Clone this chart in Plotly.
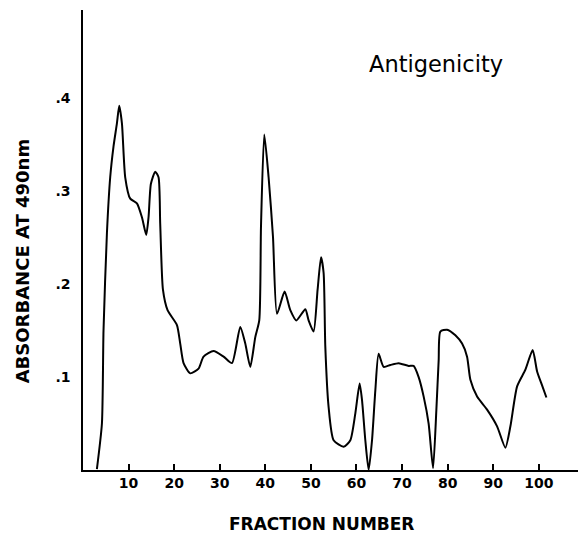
import plotly.graph_objects as go

fraction = [3.05, 4.15, 4.50, 5.25, 5.97, 6.69, 7.44, 7.95, 8.54, 9.26, 10.36, 11.83, 12.93, 13.87,
            14.38, 14.90, 15.85, 16.57, 16.94, 17.54, 18.55, 20.61, 21.33, 22.06, 23.53, 25.35,
            26.45, 28.64, 30.84, 32.68, 34.50, 35.60, 36.70, 37.80, 38.67, 39.05, 39.77, 40.72,
            41.68, 42.56, 44.23, 45.48, 46.80, 48.77, 49.50, 50.59, 51.47, 52.22, 52.79, 53.16,
            53.88, 54.98, 57.18, 58.65, 59.75, 60.69, 61.22, 61.94, 62.67, 63.41, 64.14, 64.86,
            65.96, 67.43, 69.25, 71.45, 72.54, 73.64, 74.74, 75.83, 76.80, 77.53, 78.03, 78.40,
            79.87, 81.70, 83.17, 84.26, 84.99, 86.46, 88.65, 90.85, 92.67, 93.77, 95.24, 97.06,
            98.66, 99.63, 100.72, 101.67]
absorbance = [0.001, 0.050, 0.150, 0.255, 0.315, 0.348, 0.373, 0.392, 0.373, 0.315, 0.292, 0.287,
              0.272, 0.253, 0.272, 0.308, 0.321, 0.315, 0.265, 0.194, 0.172, 0.156, 0.136, 0.115,
              0.104, 0.109, 0.122, 0.128, 0.122, 0.115, 0.154, 0.136, 0.111, 0.143, 0.161, 0.262,
              0.361, 0.315, 0.251, 0.168, 0.192, 0.172, 0.161, 0.173, 0.161, 0.149, 0.194, 0.229,
              0.212, 0.133, 0.068, 0.032, 0.025, 0.032, 0.061, 0.093, 0.075, 0.032, 0.000, 0.032,
              0.086, 0.125, 0.111, 0.113, 0.115, 0.112, 0.112, 0.100, 0.079, 0.050, 0.002, 0.065,
              0.118, 0.149, 0.151, 0.145, 0.136, 0.122, 0.097, 0.079, 0.065, 0.047, 0.024, 0.047,
              0.090, 0.108, 0.129, 0.106, 0.091, 0.078]

x_ticks = [10, 20, 30, 40, 50, 60, 70, 80, 90, 100]
y_ticks = [0.1, 0.2, 0.3, 0.4]
y_tick_labels = [".1", ".2", ".3", ".4"]

FONT = "DejaVu Sans"

fig = go.Figure()
fig.add_trace(go.Scatter(
    x=fraction, y=absorbance, mode="lines",
    line=dict(color="black", width=2, shape="spline", smoothing=0.6),
    showlegend=False, hoverinfo="skip",
))

fig.update_layout(
    width=579, height=535,
    margin=dict(l=83, r=1, t=10, b=65),
    paper_bgcolor="white", plot_bgcolor="white",
    xaxis=dict(
        range=[0, 108.6], showgrid=False, zeroline=False,
        showline=True, linecolor="black", linewidth=1.5,
        tickmode="array", tickvals=x_ticks, ticktext=[str(v) for v in x_ticks],
        ticks="inside", ticklen=6, tickwidth=1.5, tickcolor="black",
        tickfont=dict(family=FONT, size=14, color="black", weight="bold"),
        ticklabelstandoff=-1,
    ),
    yaxis=dict(
        range=[0, 0.495], showgrid=False, zeroline=False,
        showline=True, linecolor="black", linewidth=1.5,
        tickmode="array", tickvals=y_ticks, ticktext=y_tick_labels,
        ticks="", tickfont=dict(family=FONT, size=14, color="black", weight="bold"),
        ticklabelstandoff=8,
    ),
    annotations=[
        dict(text="Antigenicity", xref="paper", yref="paper", x=0.714, y=0.883,
             xanchor="center", yanchor="middle", showarrow=False,
             font=dict(family=FONT, size=22.5, color="black")),
        dict(text="FRACTION NUMBER", xref="paper", yref="paper", x=0.481, y=-0.117,
             xanchor="center", yanchor="middle", showarrow=False,
             font=dict(family=FONT, size=17, color="black", weight="bold")),
        dict(text="ABSORBANCE AT 490nm", xref="paper", yref="paper", x=-0.122, y=0.455,
             xanchor="center", yanchor="middle", showarrow=False, textangle=-90,
             font=dict(family=FONT, size=18, color="black", weight="bold")),
    ],
)

fig.write_html("out.html")
